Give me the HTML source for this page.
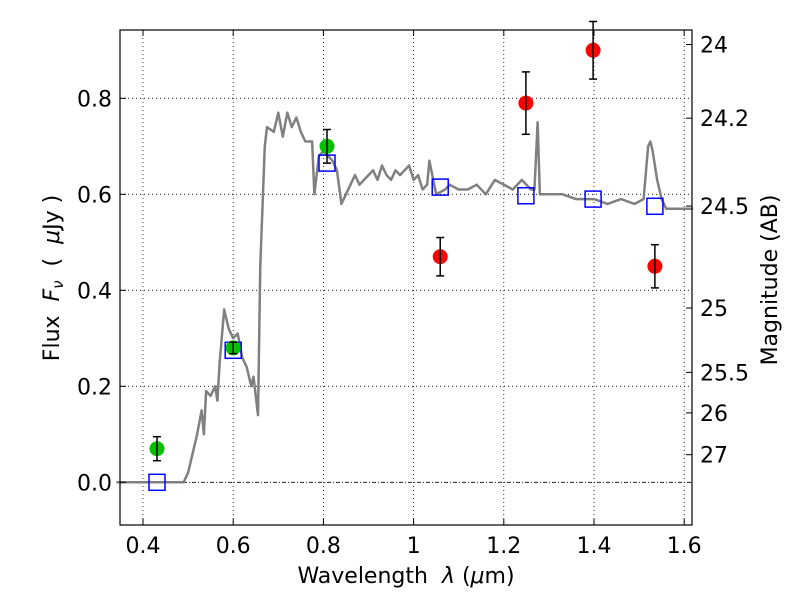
<!DOCTYPE html>
<html><head><meta charset="utf-8"><style>body{margin:0;background:#fff}svg text{font-family:"DejaVu Sans","Liberation Sans",sans-serif}</style></head>
<body>
<svg id="c" width="800" height="600"></svg>
<script>
const xTicks=[0.4,0.6,0.8,1.0,1.2,1.4,1.6];
const xTickLabels=["0.4","0.6","0.8","1","1.2","1.4","1.6"];
const yTicks=[0,0.2,0.4,0.6,0.8];
const yTickLabels=["0.0","0.2","0.4","0.6","0.8"];
const magTicks=[24,24.2,24.5,25,25.5,26,27];
const magTickLabels=["24","24.2","24.5","25","25.5","26","27"];
const specW=[0.341,0.49,0.50,0.52,0.53,0.535,0.54,0.55,0.56,0.565,0.57,0.58,0.59,0.60,0.61,0.62,0.63,0.64,0.645,0.655,0.66,0.67,0.675,0.69,0.70,0.71,0.72,0.73,0.74,0.75,0.76,0.775,0.78,0.79,0.80,0.81,0.82,0.83,0.84,0.85,0.86,0.87,0.88,0.89,0.90,0.91,0.92,0.93,0.94,0.95,0.96,0.97,0.98,0.99,1.00,1.01,1.02,1.03,1.035,1.05,1.07,1.08,1.10,1.12,1.14,1.16,1.18,1.20,1.22,1.24,1.26,1.268,1.275,1.28,1.30,1.33,1.36,1.40,1.43,1.46,1.49,1.51,1.52,1.525,1.53,1.54,1.55,1.56,1.58,1.60,1.62];
const specF=[0,0,0.02,0.10,0.15,0.10,0.19,0.18,0.20,0.17,0.25,0.36,0.32,0.30,0.31,0.26,0.24,0.20,0.22,0.14,0.45,0.70,0.74,0.73,0.77,0.72,0.77,0.74,0.76,0.73,0.71,0.71,0.60,0.68,0.69,0.68,0.67,0.65,0.58,0.60,0.62,0.64,0.62,0.63,0.64,0.65,0.63,0.66,0.64,0.63,0.65,0.64,0.65,0.66,0.63,0.64,0.61,0.62,0.67,0.60,0.61,0.62,0.61,0.61,0.62,0.60,0.63,0.62,0.61,0.63,0.61,0.61,0.75,0.60,0.60,0.60,0.59,0.59,0.58,0.59,0.58,0.59,0.70,0.71,0.69,0.63,0.59,0.57,0.57,0.57,0.57];
const greenW=[0.431,0.60,0.808];
const greenF=[0.07,0.28,0.70];
const greenE=[0.025,0.012,0.035];
const redW=[1.059,1.249,1.398,1.535];
const redF=[0.47,0.79,0.90,0.45];
const redE=[0.04,0.065,0.06,0.045];
const modelW=[0.431,0.60,0.808,1.059,1.249,1.398,1.535];
const modelF=[0.0,0.275,0.665,0.615,0.597,0.59,0.575];

const L=120,R=692,T=30,B=525;
const X=w=>143+(w-0.4)*451;
const Y=f=>482.3-f*480;
const magY=m=>Y(Math.pow(10,(23.9-m)/2.5));
const NS="http://www.w3.org/2000/svg";
const svg=document.getElementById('c');
function el(t,a,p){const e=document.createElementNS(NS,t);for(const k in a)e.setAttribute(k,a[k]);(p||svg).appendChild(e);return e;}
const grid=el('g',{});


xTicks.forEach(v=>{el('line',{x1:X(v),x2:X(v),y1:T,y2:B,stroke:'#000','stroke-width':0.8,'stroke-dasharray':'1,3'},grid);});
yTicks.forEach(v=>{el('line',{x1:L,x2:R,y1:Y(v),y2:Y(v),stroke:'#000','stroke-width':0.8,'stroke-dasharray':v===0?'4,2,1,2':'1,3'},grid);});
const sp=el('polyline',{points:specW.map((w,i)=>X(w)+','+Y(specF[i])).join(' '),fill:'none',stroke:'#808080','stroke-width':2.5,'stroke-linejoin':'round'});


modelW.forEach((w,i)=>{const r=el('rect',{x:X(w)-8,y:Y(modelF[i])-8,width:16,height:16,fill:'none',stroke:'#0000ff','stroke-width':1.5});

});
function pts(W,F,E,col,name){W.forEach((w,i)=>{const g=el('g',{});


el('circle',{cx:X(w),cy:Y(F[i]),r:7.5,fill:col},g);
const x=X(w),y1=Y(F[i]+E[i]),y2=Y(F[i]-E[i]);
el('line',{x1:x,x2:x,y1:y1,y2:y2,stroke:'#000','stroke-width':1.5},g);
el('line',{x1:x-4,x2:x+4,y1:y1,y2:y1,stroke:'#000','stroke-width':1.5},g);
el('line',{x1:x-4,x2:x+4,y1:y2,y2:y2,stroke:'#000','stroke-width':1.5},g);});}
pts(greenW,greenF,greenE,'#00c000','detection-point');
pts(redW,redF,redE,'#ff0000','upper-point');
const fr=el('rect',{x:L,y:T,width:R-L,height:B-T,fill:'none',stroke:'#000','stroke-width':1.2});


xTicks.forEach((v,i)=>{el('line',{x1:X(v),x2:X(v),y1:B,y2:B-6,stroke:'#000'});el('line',{x1:X(v),x2:X(v),y1:T,y2:T+6,stroke:'#000'});
const t=el('text',{x:X(v),y:B+28,'font-size':22,'text-anchor':'middle'});t.textContent=xTickLabels[i];

});
yTicks.forEach((v,i)=>{el('line',{x1:L,x2:L+6,y1:Y(v),y2:Y(v),stroke:'#000'});
const t=el('text',{x:L-8,y:Y(v)+8,'font-size':22,'text-anchor':'end'});t.textContent=yTickLabels[i];

});
magTicks.forEach((m,i)=>{const y=magY(m);el('line',{x1:R,x2:R-6,y1:y,y2:y,stroke:'#000'});
const t=el('text',{x:R+8,y:y+8,'font-size':22});t.textContent=magTickLabels[i];

});
</script>
<svg width="800" height="600" style="position:absolute;left:0;top:0">
<text x="406" y="583" font-size="22" text-anchor="middle" font-family="DejaVu Sans">Wavelength&#160;&#160;<tspan font-style="italic">λ</tspan>&#160;(<tspan font-style="italic">μ</tspan>m)</text>
<text transform="translate(59,278) rotate(-90)" font-size="22" text-anchor="middle" font-family="DejaVu Sans">Flux&#160;&#160;<tspan font-style="italic">F</tspan><tspan font-style="italic" font-size="15" dy="4">ν</tspan><tspan dy="-4">&#160;&#160;(&#160;&#160;</tspan><tspan font-style="italic">μ</tspan>Jy )</text>
<text transform="translate(777,280) rotate(-90)" font-size="22" text-anchor="middle" font-family="DejaVu Sans">Magnitude (AB)</text>
</svg>
</body></html>
